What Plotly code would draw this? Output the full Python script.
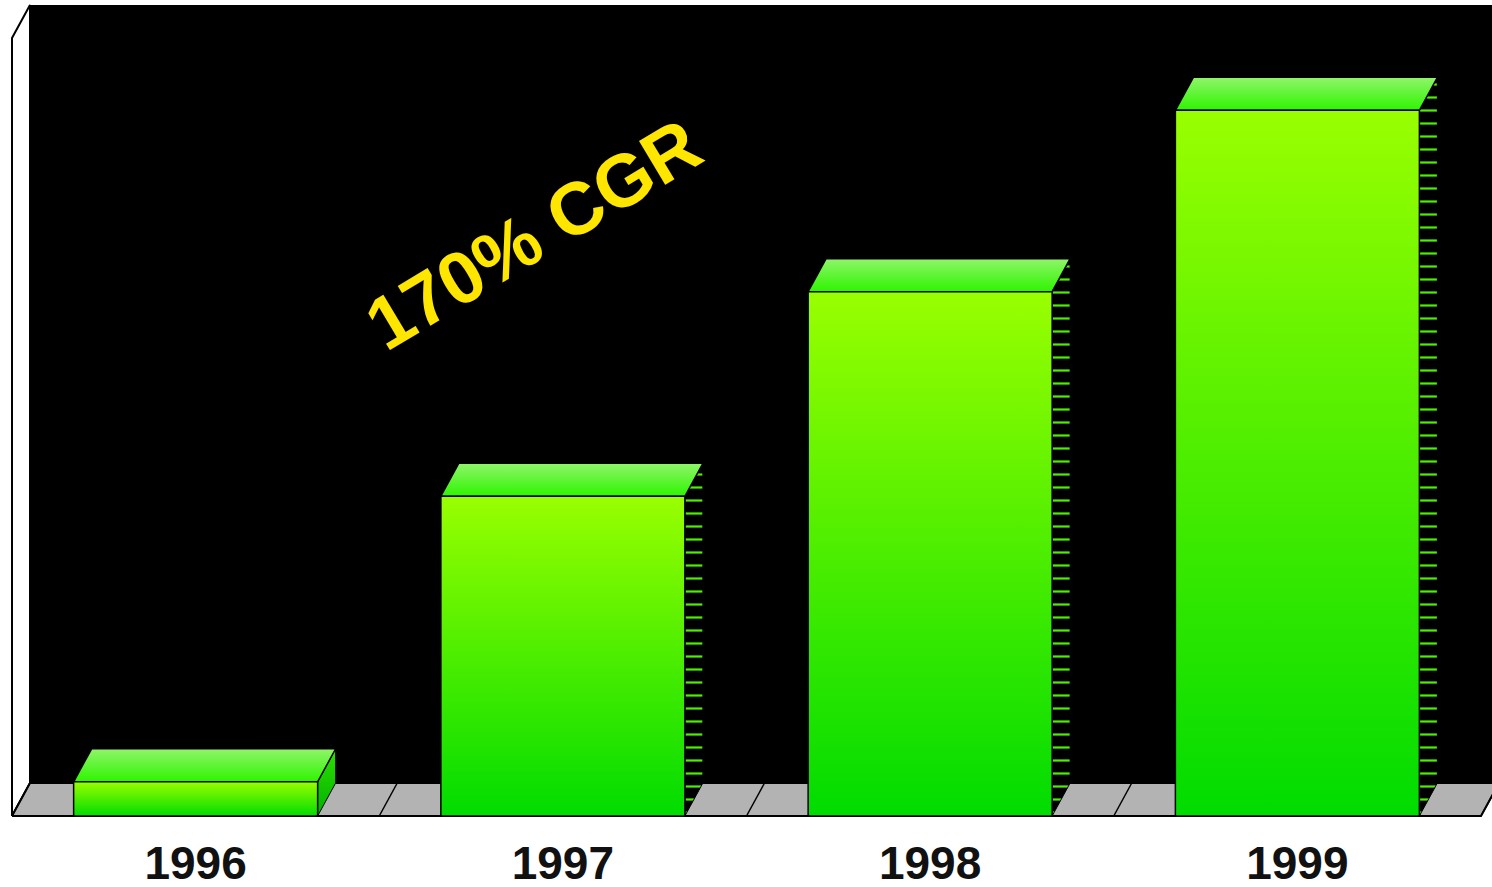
import plotly.graph_objects as go

YEARS = ["1996", "1997", "1998", "1999"]
VALUES = [4.4, 41.1, 67.4, 90.7]
CALLOUT = "170% CGR"

W, H = 1492, 887
# oblique "3D" projection, set up in pixels of the target picture
X_PX = 367.25          # px per category
Y_PX = 7.78            # px per value unit
LEFT_PX, FLOOR_PX = 12, 816
DX = 18 / X_PX         # depth offset (x)
DY = 33 / Y_PX         # depth offset (y)
HALF = 122 / X_PX      # half bar width
YMAX = 100

x_range = [-0.5 - LEFT_PX / X_PX, -0.5 + (W - LEFT_PX) / X_PX]
y_range = [-(H - FLOOR_PX) / Y_PX, FLOOR_PX / Y_PX]
FONT = "Liberation Sans, Arial, sans-serif"


def poly(pts, **kw):
    xs = [p[0] for p in pts] + [pts[0][0]]
    ys = [p[1] for p in pts] + [pts[0][1]]
    return go.Scatter(x=xs, y=ys, mode="lines", fill="toself",
                      hoverinfo="skip", showlegend=False, **kw)


fig = go.Figure()

# back wall
x0w = -0.5 + DX
fig.add_trace(poly([(x0w, DY), (x_range[1], DY), (x_range[1], YMAX + DY), (x0w, YMAX + DY)],
                   fillcolor="black", line=dict(width=0, color="black")))
# left wall
fig.add_trace(poly([(-0.5, 0), (-0.5, YMAX), (-0.5 + DX, YMAX + DY), (-0.5 + DX, DY)],
                   fillcolor="white", line=dict(width=2, color="black")))
# floor
n = len(YEARS)
fig.add_trace(poly([(-0.5, 0), (n - 0.5, 0), (n - 0.5 + DX, DY), (-0.5 + DX, DY)],
                   fillcolor="#b3b3b3", line=dict(width=2, color="black")))
gx, gy = [], []
for k in range(n + 1):
    b = k - 0.5
    gx += [b, b + DX, None]
    gy += [0, DY, None]
fig.add_trace(go.Scatter(x=gx, y=gy, mode="lines", line=dict(color="black", width=1.5),
                         hoverinfo="skip", showlegend=False))

# bars
for i, v in enumerate(VALUES):
    x0, x1 = i - HALF, i + HALF
    side = [(x1, 0), (x1 + DX, DY), (x1 + DX, v + DY), (x1, v)]
    if v > 10:
        fig.add_trace(poly(side, fillcolor="black", line=dict(width=1, color="black"),
                           fillpattern=dict(shape="-", fgcolor="#4cf000", bgcolor="black",
                                            fgopacity=1, size=13, solidity=0.17)))
    else:
        fig.add_trace(poly(side, line=dict(width=1, color="black"),
                           fillgradient=dict(type="vertical", start=0, stop=v + DY,
                                             colorscale=[[0, "#00b000"], [1, "#2ee000"]])))
    fig.add_trace(poly([(x0, v), (x1, v), (x1 + DX, v + DY), (x0 + DX, v + DY)],
                       line=dict(width=1.5, color="black"),
                       fillgradient=dict(type="vertical", start=v, stop=v + DY,
                                         colorscale=[[0, "#2ef500"], [1, "#90f56a"]])))
    fig.add_trace(poly([(x0, 0), (x1, 0), (x1, v), (x0, v)],
                       line=dict(width=1.5, color="black"),
                       fillgradient=dict(type="vertical", start=0, stop=v,
                                         colorscale=[[0, "#00dc00"], [1, "#99ff00"]])))

# year labels
fig.add_trace(go.Scatter(x=list(range(n)), y=[-6.6] * n, mode="text", text=YEARS,
                         cliponaxis=False,
                         textfont=dict(family=FONT, size=46, color="#111111", weight="bold"),
                         hoverinfo="skip", showlegend=False))

fig.add_annotation(x=0.918, y=74.8, text=CALLOUT, showarrow=False, textangle=-31,
                   font=dict(family=FONT, size=74, color="#ffe600", weight="bold"))

fig.update_layout(
    width=W, height=H, margin=dict(l=0, r=0, t=0, b=0),
    paper_bgcolor="white", plot_bgcolor="white", showlegend=False,
    xaxis=dict(visible=False, range=x_range, fixedrange=True),
    yaxis=dict(visible=False, range=y_range, fixedrange=True),
)
fig.write_html("out.html", config={"displayModeBar": False},
               post_script="document.body.style.margin='0';document.body.style.overflow='hidden';")
